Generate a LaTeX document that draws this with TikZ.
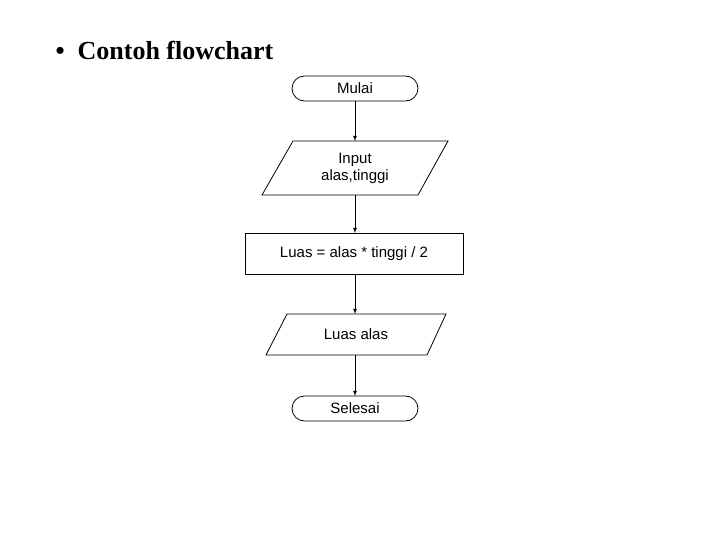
\documentclass[tikz,border=0pt]{standalone}
\usepackage{fontspec}
\setmainfont{Liberation Serif}
\newfontfamily\arial{Liberation Sans}
\begin{document}
\begin{tikzpicture}[x=1pt,y=-1pt,
  lbl/.style={font=\arial\fontsize{15}{17}\selectfont,align=center},
  shp/.style={draw=black,line width=0.8pt},
  arr/.style={draw=black,line width=0.8pt,-latex}]
\useasboundingbox (0,0) rectangle (720,540);
\node[anchor=base west,font=\bfseries\fontsize{26}{30}\selectfont] (title) at (52,60) {\textbullet\ \ Contoh flowchart};
% terminators
\draw[shp,rounded corners=12.5] (292,76) rectangle (418,101);
\node[lbl] (mulai) at (355,88.5) {Mulai};
\draw[shp] (293,141) -- (448,141) -- (418,195) -- (262,195) -- cycle;
\node[lbl] (input) at (355,168) {Input\\alas,tinggi};
\draw[shp] (245,233) rectangle (463,274);
\node[lbl] (proc) at (354,254) {Luas = alas * tinggi / 2};
\draw[shp] (287,314) -- (446,314) -- (427,355) -- (266,355) -- cycle;
\node[lbl] (out) at (356,334) {Luas alas};
\draw[shp,rounded corners=12.5] (292,396) rectangle (418,421);
\node[lbl] (sel) at (355,408.5) {Selesai};
\coordinate (a1) at (355,101); \coordinate (b1) at (355,141);
\coordinate (a2) at (355,195); \coordinate (b2) at (355,233);
\coordinate (a3) at (355,274); \coordinate (b3) at (355,314);
\coordinate (a4) at (355,355); \coordinate (b4) at (355,396);
\draw[arr] (a1) -- (b1);
\draw[arr] (a2) -- (b2);
\draw[arr] (a3) -- (b3);
\draw[arr] (a4) -- (b4);
\end{tikzpicture}
\end{document}
